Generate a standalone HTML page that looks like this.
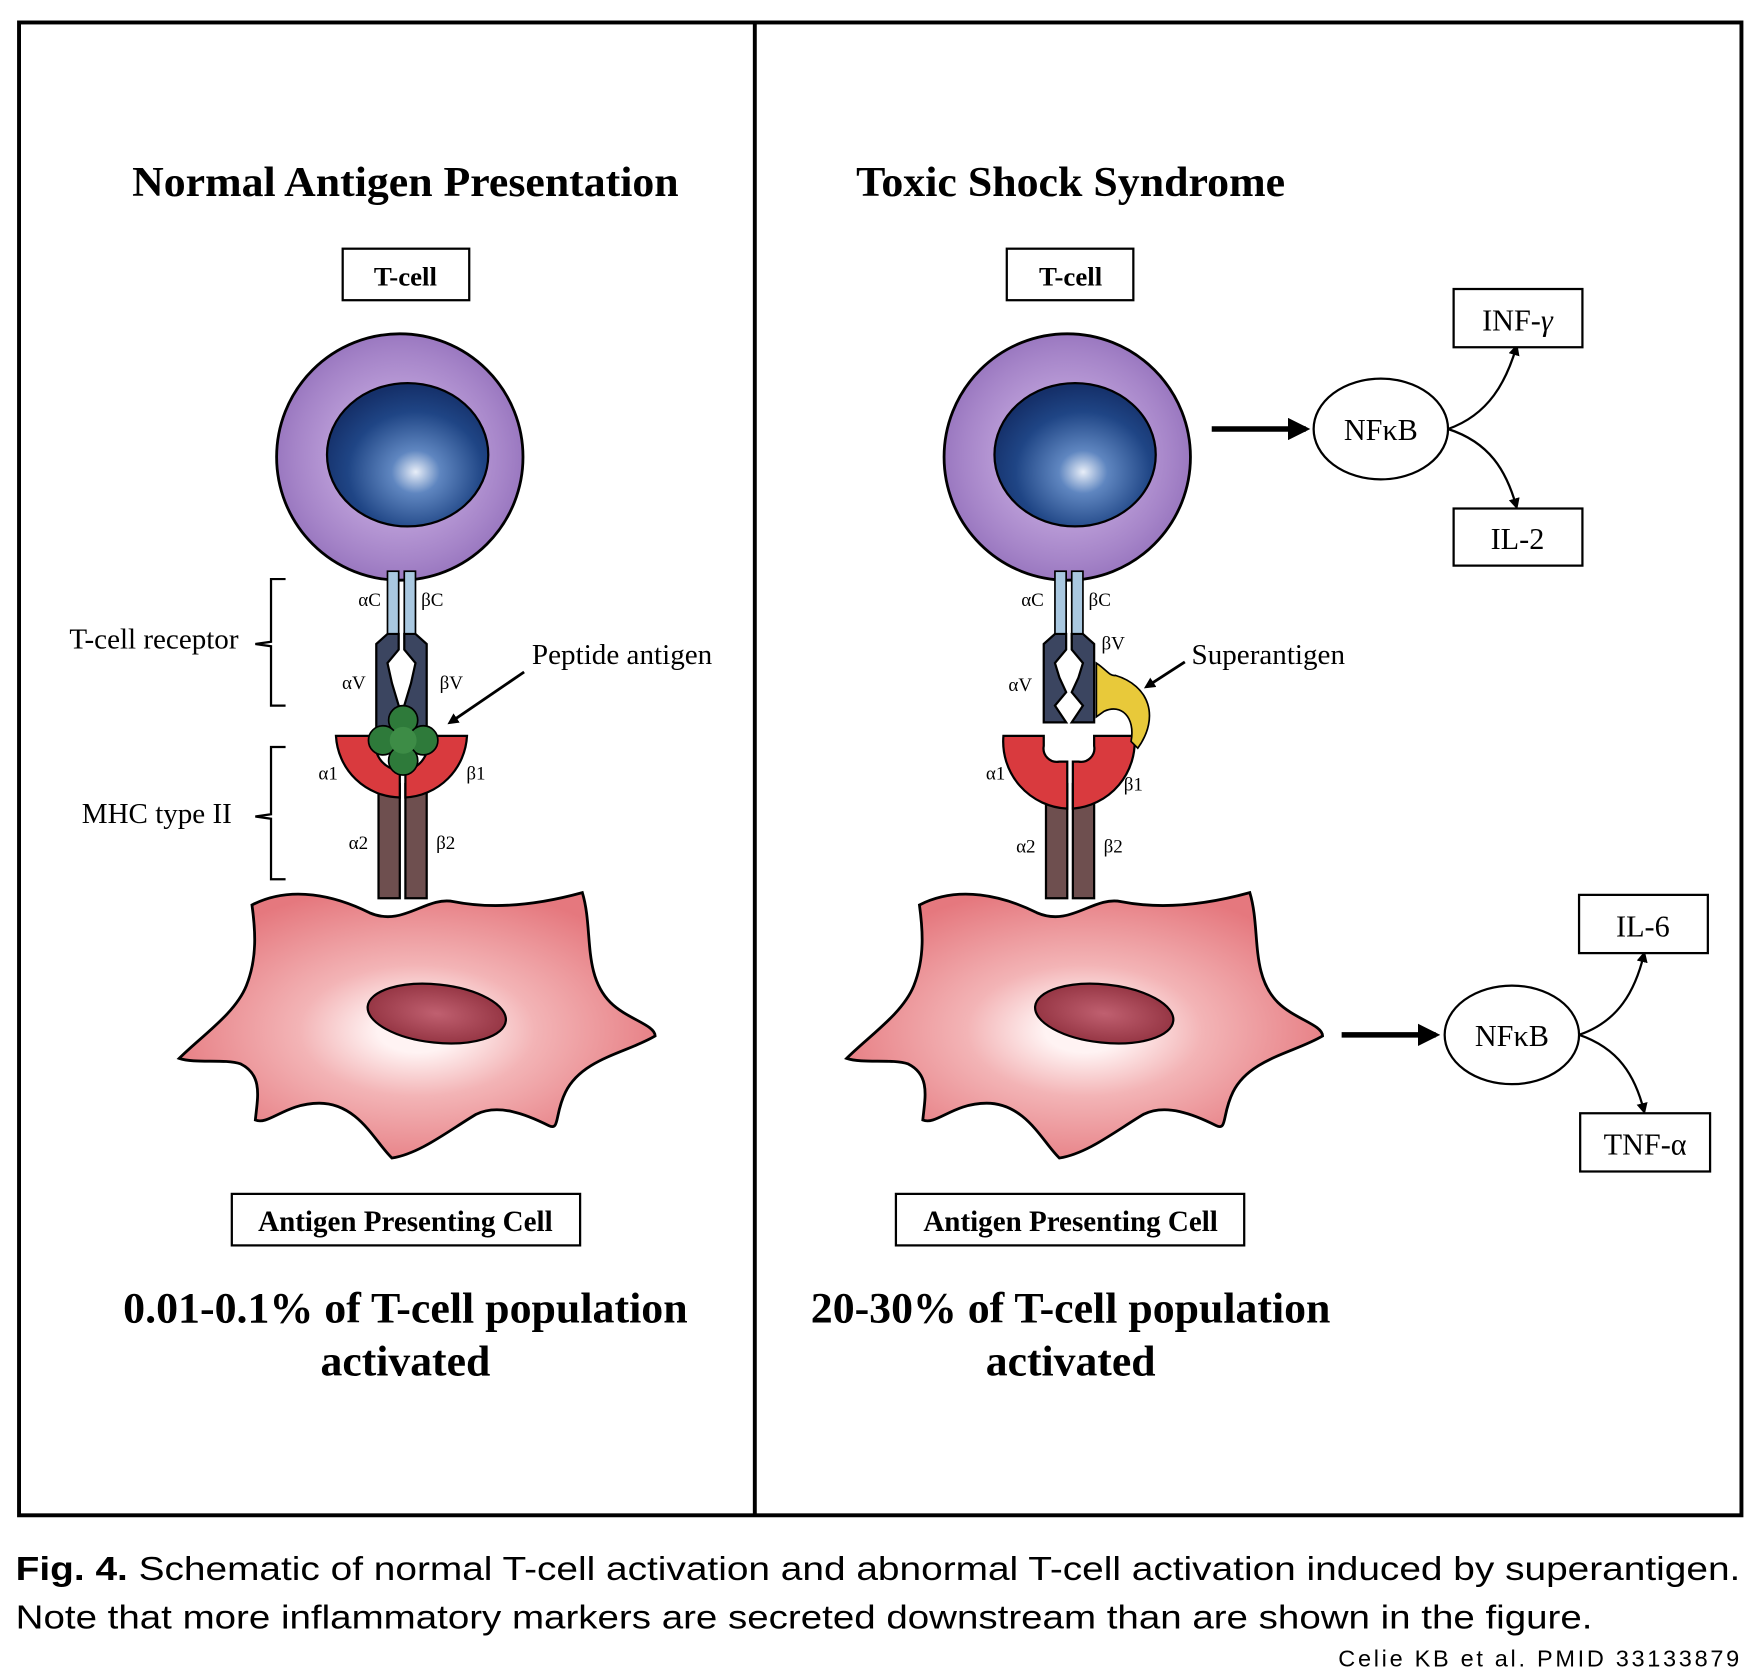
<!DOCTYPE html>
<html><head><meta charset="utf-8"><style>
html,body{margin:0;padding:0;background:#fff;}
svg{display:block;}
</style></head><body>
<svg width="1756" height="1680" viewBox="0 0 1568 1500" xmlns="http://www.w3.org/2000/svg">
<defs>
<radialGradient id="tc" cx="0.5" cy="0.5" r="0.5">
<stop offset="0.55" stop-color="#b89ad6"/><stop offset="0.85" stop-color="#a584c8"/><stop offset="1" stop-color="#9a78c0"/></radialGradient>
<radialGradient id="nuc" cx="0.55" cy="0.62" r="0.6">
<stop offset="0" stop-color="#e8eef8"/><stop offset="0.25" stop-color="#5f86c0"/><stop offset="0.7" stop-color="#1f4585"/><stop offset="1" stop-color="#15306a"/></radialGradient>
<radialGradient id="apc" cx="0.5" cy="0.52" r="0.55">
<stop offset="0.15" stop-color="#fff3f3"/><stop offset="0.45" stop-color="#f3b4b6"/><stop offset="1" stop-color="#e5787e"/></radialGradient>
<radialGradient id="apn" cx="0.5" cy="0.5" r="0.6">
<stop offset="0" stop-color="#c06070"/><stop offset="1" stop-color="#8e2e3c"/></radialGradient>
<marker id="ah" markerWidth="10" markerHeight="10" refX="7" refY="5" orient="auto" markerUnits="userSpaceOnUse"><path d="M0,0 L10,5 L0,10 z" fill="#000"/></marker>
<marker id="ahb" markerWidth="20" markerHeight="20" refX="16" refY="10" orient="auto" markerUnits="userSpaceOnUse"><path d="M0,0 L20,10 L0,20 z" fill="#000"/></marker>
<g id="cells">
<path d="M225,808 C260,790 300,800 330,815 C360,828 380,800 405,805 C440,812 480,808 520,797 C530,830 520,870 545,895 C560,910 585,915 585,925 C560,940 520,945 505,975 C495,995 500,1010 490,1005 C470,995 445,985 425,995 C400,1010 375,1030 350,1034 C335,1020 320,985 285,985 C255,985 240,1005 228,1000 C230,980 235,960 215,950 C200,945 175,950 160,945 C180,925 210,905 220,880 C230,855 228,830 225,808 Z" fill="url(#apc)" stroke="#000" stroke-width="2.5"/>
<ellipse cx="390" cy="905" rx="62" ry="26" fill="url(#apn)" stroke="#000" stroke-width="2" transform="rotate(6 390 905)"/>
<rect x="338" y="700" width="19" height="102" fill="#6e4f4f" stroke="#000" stroke-width="2"/>
<rect x="362" y="700" width="19" height="102" fill="#6e4f4f" stroke="#000" stroke-width="2"/>
<circle cx="357" cy="408" r="110" fill="url(#tc)" stroke="#000" stroke-width="2.5"/>
<ellipse cx="364" cy="406" rx="72" ry="64" fill="url(#nuc)" stroke="#000" stroke-width="2"/>
<rect x="346" y="510" width="10" height="60" fill="#a9c8e0" stroke="#000" stroke-width="1.5"/>
<rect x="361" y="510" width="10" height="60" fill="#a9c8e0" stroke="#000" stroke-width="1.5"/>
</g>
</defs>

<rect x="17" y="20" width="1538" height="1333" fill="none" stroke="#000" stroke-width="3.5"/>
<line x1="674" y1="20" x2="674" y2="1353" stroke="#000" stroke-width="3.5"/>

<g font-family="Liberation Serif, serif" fill="#000">
<text x="362" y="175" font-size="38" font-weight="bold" text-anchor="middle" textLength="488" lengthAdjust="spacingAndGlyphs">Normal Antigen Presentation</text>
<rect x="306" y="222" width="113" height="46" fill="#fff" stroke="#000" stroke-width="2"/>
<text x="362" y="255" font-size="24" font-weight="bold" text-anchor="middle">T-cell</text>
<use href="#cells"/>
<path d="M336,575 L346,566 L356,566 L356,580 L346,592 L350,610 L356,630 L348,650 L336,650 Z" fill="#3b4560" stroke="#000" stroke-width="2"/>
<path d="M381,575 L371,566 L361,566 L361,580 L371,592 L367,610 L361,630 L369,650 L381,650 Z" fill="#3b4560" stroke="#000" stroke-width="2"/>
<path d="M300,657 L336,657 A24,24 0 0 0 357,688 L357,712 A58,58 0 0 1 300,657 Z" fill="#d93a3e" stroke="#000" stroke-width="2"/>
<path d="M417,657 L381,657 A24,24 0 0 1 362,688 L362,712 A58,58 0 0 0 417,657 Z" fill="#d93a3e" stroke="#000" stroke-width="2"/>
<g fill="#2e7a3a" stroke="#000" stroke-width="1.5">
<circle cx="360" cy="643" r="13"/><circle cx="342" cy="661" r="13"/><circle cx="378" cy="661" r="13"/><circle cx="360" cy="679" r="13"/><circle cx="360" cy="661" r="12" stroke="none" fill="#3d8c46"/></g>
<g font-size="17" text-anchor="middle">
<text x="330" y="541">αC</text><text x="386" y="541">βC</text>
<text x="316" y="615">αV</text><text x="403" y="615">βV</text>
<text x="293" y="696">α1</text><text x="425" y="696">β1</text>
<text x="320" y="758">α2</text><text x="398" y="758">β2</text>
</g>
<text x="62" y="579" font-size="25" textLength="151" lengthAdjust="spacingAndGlyphs">T-cell receptor</text>
<text x="73" y="735" font-size="25" textLength="134" lengthAdjust="spacingAndGlyphs">MHC type II</text>
<path d="M255,517 L242,517 L242,573 L228,575 L242,577 L242,630 L255,630" fill="none" stroke="#000" stroke-width="2"/>
<path d="M255,667 L242,667 L242,727 L228,729 L242,731 L242,785 L255,785" fill="none" stroke="#000" stroke-width="2"/>
<text x="475" y="593" font-size="25" textLength="161" lengthAdjust="spacingAndGlyphs">Peptide antigen</text>
<line x1="468" y1="600" x2="402" y2="645" stroke="#000" stroke-width="2.5" marker-end="url(#ah)"/>
<rect x="207" y="1066" width="311" height="46" fill="#fff" stroke="#000" stroke-width="2"/>
<text x="362" y="1099" font-size="26" font-weight="bold" text-anchor="middle" textLength="263" lengthAdjust="spacingAndGlyphs">Antigen Presenting Cell</text>
<text x="362" y="1181" font-size="39" font-weight="bold" text-anchor="middle" textLength="504" lengthAdjust="spacingAndGlyphs">0.01-0.1% of T-cell population</text>
<text x="362" y="1228" font-size="39" font-weight="bold" text-anchor="middle">activated</text>

<text x="956" y="175" font-size="38" font-weight="bold" text-anchor="middle" textLength="383" lengthAdjust="spacingAndGlyphs">Toxic Shock Syndrome</text>
<rect x="899" y="222" width="113" height="46" fill="#fff" stroke="#000" stroke-width="2"/>
<text x="956" y="255" font-size="24" font-weight="bold" text-anchor="middle">T-cell</text>
<use href="#cells" transform="translate(596,0)"/>
<g transform="translate(596,0)">
<path d="M336,575 L346,566 L356,566 L356,580 L346,592 L350,605 L356,618 L346,630 L356,645 L336,645 Z" fill="#3b4560" stroke="#000" stroke-width="2"/>
<path d="M381,575 L371,566 L361,566 L361,580 L371,592 L367,605 L361,618 L371,630 L361,645 L381,645 Z" fill="#3b4560" stroke="#000" stroke-width="2"/>
<path d="M300,657 L336,657 L336,666 A12,12 0 0 0 350,680 L357,680 L357,722 A60,60 0 0 1 300,657 Z" fill="#d93a3e" stroke="#000" stroke-width="2"/>
<path d="M417,657 L381,657 L381,666 A12,12 0 0 1 367,680 L362,680 L362,722 A60,60 0 0 0 417,657 Z" fill="#d93a3e" stroke="#000" stroke-width="2"/>
<path d="M383,592 C392,598 395,604 400,603 C430,612 440,640 420,668 L414,662 C418,640 405,628 390,635 L383,640 Z" fill="#e8c93a" stroke="#000" stroke-width="1.5"/>
<g font-size="17" text-anchor="middle">
<text x="326" y="541">αC</text><text x="386" y="541">βC</text>
<text x="315" y="617">αV</text><text x="398" y="580">βV</text>
<text x="293" y="696">α1</text><text x="416" y="706">β1</text>
<text x="320" y="761">α2</text><text x="398" y="761">β2</text>
</g>
</g>
<text x="1064" y="593" font-size="25" textLength="137" lengthAdjust="spacingAndGlyphs">Superantigen</text>
<line x1="1058" y1="591" x2="1024" y2="613" stroke="#000" stroke-width="2.5" marker-end="url(#ah)"/>

<line x1="1082" y1="383" x2="1166" y2="383" stroke="#000" stroke-width="5" marker-end="url(#ahb)"/>
<ellipse cx="1233" cy="383" rx="60" ry="45" fill="#fff" stroke="#000" stroke-width="2"/>
<text x="1233" y="393" font-size="27" text-anchor="middle">NFκB</text>
<path d="M1293,383 C1330,370 1345,340 1354,310" fill="none" stroke="#000" stroke-width="2" marker-end="url(#ah)"/>
<path d="M1293,383 C1330,395 1345,420 1354,452" fill="none" stroke="#000" stroke-width="2" marker-end="url(#ah)"/>
<rect x="1298" y="258" width="115" height="52" fill="#fff" stroke="#000" stroke-width="2"/>
<text x="1355" y="295" font-size="27" text-anchor="middle">INF-<tspan font-style="italic">γ</tspan></text>
<rect x="1298" y="454" width="115" height="51" fill="#fff" stroke="#000" stroke-width="2"/>
<text x="1355" y="490" font-size="27" text-anchor="middle">IL-2</text>

<line x1="1198" y1="924" x2="1282" y2="924" stroke="#000" stroke-width="5" marker-end="url(#ahb)"/>
<ellipse cx="1350" cy="924" rx="60" ry="44" fill="#fff" stroke="#000" stroke-width="2"/>
<text x="1350" y="934" font-size="27" text-anchor="middle">NFκB</text>
<path d="M1410,924 C1445,912 1460,885 1468,852" fill="none" stroke="#000" stroke-width="2" marker-end="url(#ah)"/>
<path d="M1410,924 C1445,936 1460,960 1468,992" fill="none" stroke="#000" stroke-width="2" marker-end="url(#ah)"/>
<rect x="1410" y="799" width="115" height="52" fill="#fff" stroke="#000" stroke-width="2"/>
<text x="1467" y="836" font-size="27" text-anchor="middle">IL-6</text>
<rect x="1411" y="994" width="116" height="52" fill="#fff" stroke="#000" stroke-width="2"/>
<text x="1469" y="1031" font-size="27" text-anchor="middle">TNF-α</text>

<rect x="800" y="1066" width="311" height="46" fill="#fff" stroke="#000" stroke-width="2"/>
<text x="956" y="1099" font-size="26" font-weight="bold" text-anchor="middle" textLength="263" lengthAdjust="spacingAndGlyphs">Antigen Presenting Cell</text>
<text x="956" y="1181" font-size="39" font-weight="bold" text-anchor="middle" textLength="464" lengthAdjust="spacingAndGlyphs">20-30% of T-cell population</text>
<text x="956" y="1228" font-size="39" font-weight="bold" text-anchor="middle">activated</text>
</g>

<g font-family="Liberation Sans, sans-serif" fill="#000">
<text x="14" y="1411" font-size="30" textLength="1540" lengthAdjust="spacingAndGlyphs"><tspan font-weight="bold">Fig. 4.</tspan> Schematic of normal T-cell activation and abnormal T-cell activation induced by superantigen.</text>
<text x="14" y="1454" font-size="30" textLength="1408" lengthAdjust="spacingAndGlyphs">Note that more inflammatory markers are secreted downstream than are shown in the figure.</text>
<text x="1195" y="1488" font-size="21" textLength="358" lengthAdjust="spacing">Celie KB et al.  PMID  33133879</text>
</g>
</svg>
</body></html>
